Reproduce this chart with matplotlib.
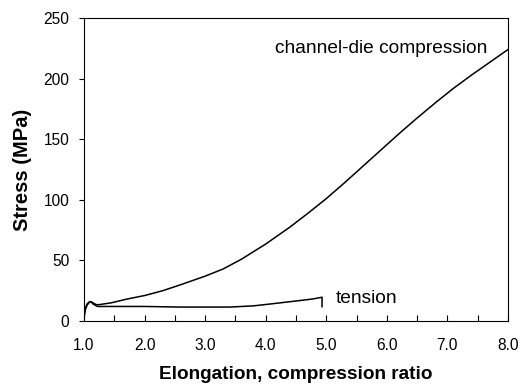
import numpy as np
import matplotlib.pyplot as plt
from matplotlib.ticker import MultipleLocator

plt.rcParams['font.family'] = ['Liberation Sans', 'DejaVu Sans']

# channel-die compression curve
comp_x = [1.00, 1.02, 1.05, 1.08, 1.11, 1.15, 1.20, 1.25, 1.45, 1.70, 2.00, 2.30,
          2.60, 3.00, 3.30, 3.60, 4.00, 4.40, 4.70, 5.00, 5.30, 5.60, 5.90,
          6.20, 6.50, 6.80, 7.10, 7.40, 7.70, 8.00]
comp_y = [4, 10, 14, 15.5, 16, 15, 13.5, 13.5, 15, 18, 21, 25,
          30, 37, 43, 51, 63.5, 77.5, 89, 101, 114, 127.5, 141,
          154.5, 167.5, 180, 192, 203, 213.5, 224]

# tension curve
tens_x = [1.00, 1.02, 1.05, 1.08, 1.11, 1.15, 1.22, 1.50, 2.00, 2.58, 3.00,
          3.41, 3.80, 4.07, 4.50, 4.78, 4.93, 4.93]
tens_y = [2, 9, 13, 15, 16, 14, 12, 12, 12, 11.5, 11.5,
          11.5, 12.5, 14, 16.5, 18.2, 19.6, 11.8]

x_ticks = [1.0, 2.0, 3.0, 4.0, 5.0, 6.0, 7.0, 8.0]
y_ticks = [0, 50, 100, 150, 200, 250]

fig = plt.figure(figsize=(5.21, 3.84), dpi=100)
ax = fig.add_axes([84/521, 1-321/384, (508-84)/521, (321-18)/384])

ax.plot(comp_x, comp_y, color='black', lw=1.1)
ax.plot(tens_x, tens_y, color='black', lw=1.1)

ax.set_xlim(1.0, 8.0)
ax.set_ylim(0, 250)
ax.set_xticks(x_ticks)
ax.set_xticklabels(['%.1f' % v for v in x_ticks])
ax.set_yticks(y_ticks)
ax.xaxis.set_minor_locator(MultipleLocator(0.5))
ax.tick_params(axis='x', which='both', direction='in', length=4, width=0.8,
               labelsize=11.2, pad=12)
ax.tick_params(axis='y', direction='out', length=3.6, width=0.8,
               labelsize=11.2, pad=7)

for s in ax.spines.values():
    s.set_linewidth(0.8)

ax.set_xlabel('Elongation, compression ratio', fontsize=13.7, fontweight='bold')
ax.xaxis.set_label_coords(0.5, -0.150)
ax.set_ylabel('Stress (MPa)', fontsize=14.5, fontweight='bold')
ax.yaxis.set_label_coords(-0.123, 0.5)

ax.text(4.15, 221, 'channel-die compression', fontsize=13.8, va='baseline')
ax.text(5.16, 14.6, 'tension', fontsize=13.8, va='baseline')

fig.savefig('out.png', dpi=100)
